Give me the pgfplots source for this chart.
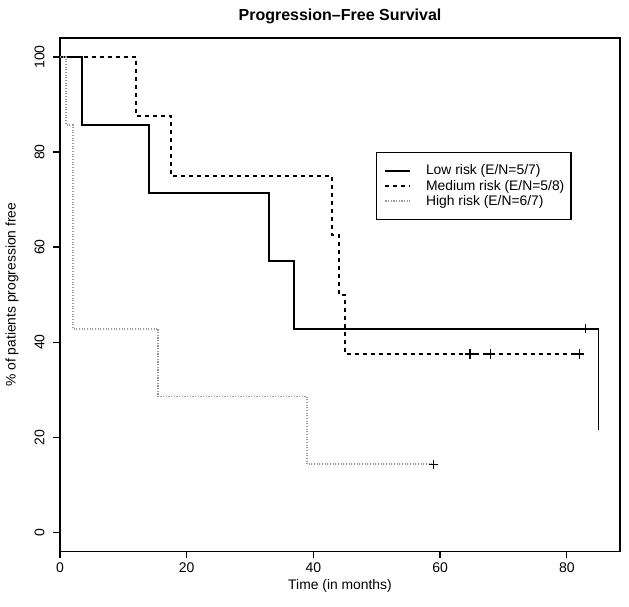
\documentclass[border=0pt]{standalone}
\usepackage{fontspec}
\setmainfont{Liberation Sans}
\usepackage{pgfplots}
\pgfplotsset{compat=1.18}
\begin{document}
\begin{tikzpicture}
\begin{axis}[
  at={(0,0)}, anchor=south west,
  scale only axis, width=420pt, height=385pt,
  xmin=0, xmax=88.4, ymin=-4, ymax=104,
  xtick={0,20,40,60,80}, ytick={0,20,40,60,80,100},
  tick pos=left, tick align=outside,
  major tick length=5pt,
  every tick/.style={black, line width=1pt},
  axis line style={line width=1pt},
  /pgf/number format/assume math mode=true,
  tick label style={font=\fontsize{10.5}{12}\selectfont},
  yticklabel style={xshift=-3pt, rotate=90, anchor=south},
  label style={font=\fontsize{10.4}{12}\selectfont},
  xlabel={Time (in months)},
  ylabel={\% of patients progression free},
  xlabel style={at={(axis description cs:0.5,-0.068)}, anchor=center},
  ylabel style={at={(axis description cs:-0.0857,0.5)}, anchor=center},
  title={Progression--Free Survival},
  title style={at={(axis description cs:0.5,1.026)}, anchor=center, font=\fontsize{12}{14}\selectfont\bfseries},
  legend image code/.code={\path (0pt,0pt) (26.75pt,0pt); \draw[#1] (4pt,0pt) -- (22.75pt,0pt);},
  legend style={at={(axis description cs:0.564,0.778)}, anchor=north west,
    draw=black, line width=1pt, font=\fontsize{10.4}{12}\selectfont,
    inner xsep=2pt, inner ysep=8pt, row sep=0pt, column sep=4pt,
    nodes={inner xsep=3pt, inner ysep=1.2pt}},
  legend cell align=left,
]
\addplot[const plot, black, line width=1.4pt] coordinates {
  (0,100) (3.5,85.71) (14,71.43) (33,57.14) (37,42.86) (85,21.43)};
\addlegendentry{Low risk (E/N=5/7)}
\addplot[const plot, black, line width=1.4pt, dash pattern=on 3pt off 3pt] coordinates {
  (0,100) (12,87.5) (17.5,75) (43,62.5) (44,50) (45,37.5) (82,37.5)};
\addlegendentry{Medium risk (E/N=5/8)}
\addplot[const plot, black!40, line width=1.4pt, dash pattern=on 0.8pt off 1.2pt] coordinates {
  (0,100) (1,85.71) (2,42.86) (15.5,28.57) (39,14.29) (59,14.29)};
\addlegendentry{High risk (E/N=6/7)}
\addplot[only marks, mark=+, mark size=3.5pt, black, line width=1pt, forget plot] coordinates {
  (83,42.86) (64.7,37.5) (68,37.5) (82,37.5) (59,14.29)};
\end{axis}
\pgfresetboundingbox
\path[use as bounding box] (-45pt,-41.25pt) rectangle (426.75pt,413.5pt);
\end{tikzpicture}
\end{document}
